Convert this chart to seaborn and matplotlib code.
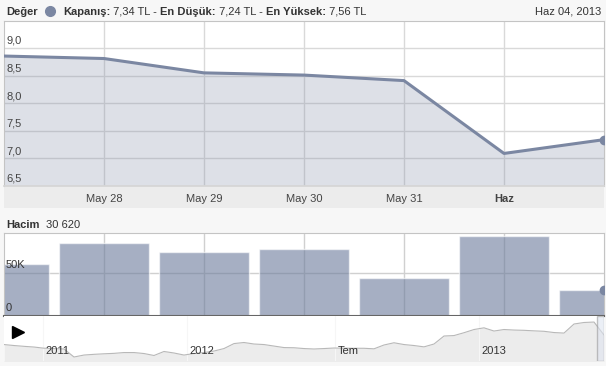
import numpy as np
import matplotlib
matplotlib.use("Agg")
import matplotlib.pyplot as plt
from matplotlib.patches import Rectangle
from matplotlib.lines import Line2D
import seaborn as sns

# fiyat (son 7 islem gunu)
gun = [0, 1, 2, 3, 4, 5, 6]
kapanis = [8.855, 8.81, 8.55, 8.51, 8.41, 7.09, 7.34]
gun_etiket = ["May 28", "May 29", "May 30", "May 31", "Haz"]
gun_tick = [1, 2, 3, 4, 5]
fiyat_tick = [6.5, 7.0, 7.5, 8.0, 8.5, 9.0]
fiyat_etiket = ["6,5", "7,0", "7,5", "8,0", "8,5", "9,0"]

# hacim
hacim = [60500, 86300, 75300, 78400, 44100, 94000, 30620]
hacim_tick = [0, 50000]
hacim_etiket = ["0", "50K"]

# navigator (uzun donem fiyat)
nav_fiyat = [6.27, 6.16, 6.07, 5.99, 5.86, 5.82, 5.77, 4.87, 5.09, 5.17,
             5.23, 5.28, 5.37, 5.37, 5.26, 5.04, 5.49, 5.32, 5.09, 5.26,
             5.37, 5.54, 5.82, 6.38, 6.50, 6.33, 6.27, 6.10, 5.93, 5.91,
             5.82, 5.77, 5.82, 5.88, 5.86, 5.85, 5.85, 5.79, 6.22, 6.47,
             6.27, 6.16, 6.01, 6.33, 7.23, 7.28, 7.60, 7.96, 8.15, 7.79,
             7.96, 7.90, 7.87, 7.81, 7.76, 7.62, 7.56, 8.58, 8.75, 8.80,
             7.34]
nav_tick = [3.9, 18.3, 33.1, 47.5]
nav_etiket = ["2011", "2012", "Tem", "2013"]

# baslik
baslik_parca = [("Kapanış:", "bold"), (" 7,34 TL - ", "normal"), ("En Düşük:", "bold"),
                (" 7,24 TL - ", "normal"), ("En Yüksek:", "bold"), (" 7,56 TL", "normal")]
tarih = "Haz 04, 2013"
son_hacim = "30 620"

renk = "#7b87a2"
yazi = "#333333"
W, H = 606, 366

sns.set_theme(style="white")
plt.rcParams["font.family"] = ["Liberation Sans", "DejaVu Sans"]
plt.rcParams["font.size"] = 8

fig = plt.figure(figsize=(W / 100, H / 100), dpi=100)
fig.patch.set_facecolor("#f7f7f7")

def fx(px):
    return px / W

def fy(py):
    return 1 - py / H

# --- fiyat grafigi ---
ax = fig.add_axes([fx(4), fy(186), fx(600), 165 / H])
ax.set_facecolor("white")
sns.lineplot(x=gun, y=kapanis, color=renk, lw=2.2, ax=ax, zorder=3)
ax.fill_between(gun, kapanis, 0, color=renk, alpha=0.25, lw=0, zorder=2)
ax.plot(gun[-1], kapanis[-1], "o", ms=6, color=renk, zorder=4)
ax.set_xlim(0, 6)
ax.set_ylim(6.5, 9.49)
ax.set_xticks(gun_tick)
ax.set_xticklabels(gun_etiket)
ax.set_yticks(fiyat_tick)
ax.grid(True, color="#d9d9d9", lw=1)
ax.set_axisbelow(True)
ax.tick_params(axis="x", length=0, pad=6, labelsize=8, labelcolor="#444444")
ax.tick_params(axis="y", length=0, labelleft=False)
ax.get_xticklabels()[-1].set_fontweight("bold")
ax.set_xlabel("")
ax.set_ylabel("")
for v, t in zip(fiyat_tick, fiyat_etiket):
    ax.annotate(t, (0, v), xycoords=("axes fraction", "data"), xytext=(1.5, 1.5),
                textcoords="offset points", va="bottom", ha="left", fontsize=8, color="#444444")
for s in ["top", "left", "right"]:
    ax.spines[s].set_color("#c4c4c4")
    ax.spines[s].set_linewidth(0.8)
ax.spines["bottom"].set_color("#d6d6d6")

# tarih bandi
fig.patches.append(Rectangle((fx(4), fy(208)), fx(600), 22 / H, transform=fig.transFigure,
                             facecolor="#ececec", edgecolor="none", zorder=-1))

# --- hacim grafigi ---
vax = fig.add_axes([fx(4), fy(316), fx(600), 83 / H])
vax.set_facecolor("white")
sns.barplot(x=gun, y=hacim, native_scale=True, color="#6b7b9b", alpha=0.6, width=0.9,
            saturation=1, ax=vax, zorder=2)
vax.plot(gun[-1], hacim[-1], "o", ms=6, color=renk, zorder=4)
vax.set_xlim(0, 6)
vax.set_ylim(0, 97500)
vax.set_xticks(gun_tick)
vax.set_yticks(hacim_tick)
vax.grid(True, color="#d0d0d0", lw=1)
vax.set_axisbelow(True)
vax.tick_params(length=0, labelleft=False, labelbottom=False)
vax.set_xlabel("")
vax.set_ylabel("")
for v, t in zip(hacim_tick, hacim_etiket):
    vax.annotate(t, (0, v), xycoords=("axes fraction", "data"), xytext=(1.5, 2.5),
                 textcoords="offset points", va="bottom", ha="left", fontsize=8, color=yazi)
for s in ["top", "left", "right"]:
    vax.spines[s].set_color("#c4c4c4")
    vax.spines[s].set_linewidth(0.8)
vax.spines["bottom"].set_color("#666666")
vax.spines["bottom"].set_linewidth(1.5)
vax.spines["bottom"].set_zorder(5)

# --- navigator ---
nax = fig.add_axes([fx(4), fy(361), fx(600), 45 / H])
nax.set_facecolor("white")
nx = list(range(len(nav_fiyat)))
nax.fill_between(nx, nav_fiyat, 0, color="#ececec", lw=0, zorder=1)
sns.lineplot(x=nx, y=nav_fiyat, color="#b8b8b8", lw=0.8, ax=nax, zorder=2)
nax.set_xlim(0, len(nav_fiyat) - 1)
nax.set_ylim(4.42, 9.48)
for p, t in zip(nav_tick, nav_etiket):
    nax.axvline(p, color="#f6f6f6", lw=0.8, zorder=1.5)
    nax.annotate(t, (p, 0), xycoords=("data", "axes fraction"), xytext=(2, 3.5),
                 textcoords="offset points", ha="left", va="bottom", fontsize=8, color=yazi)
nax.axvspan(59.25, 59.97, facecolor="#dfe5f0", alpha=0.6, edgecolor="#9a9a9a", lw=1, zorder=3)
nax.plot([0.0233], [0.64], marker=">", ms=8, color="black", transform=nax.transAxes, clip_on=False)
nax.set_xticks([])
nax.set_yticks([])
nax.set_xlabel("")
nax.set_ylabel("")
for s in nax.spines.values():
    s.set_visible(False)

# --- baslik ---
fig.text(fx(6), fy(15), "Değer", fontweight="bold", color=yazi, fontsize=8, va="baseline")
fig.add_artist(Line2D([fx(50)], [fy(11)], marker="o", ms=7, color=renk, transform=fig.transFigure))
onceki = fig.text(fx(63), fy(15), baslik_parca[0][0], fontweight=baslik_parca[0][1],
                  color=yazi, fontsize=8, va="baseline")
for metin, kalin in baslik_parca[1:]:
    # her parca bir oncekinin sag kenarindan devam eder
    onceki = fig.add_artist(plt.Annotation(metin, xy=(1, 0), xycoords=onceki, va="bottom",
                                           ha="left", fontweight=kalin, color=yazi, fontsize=8))
fig.text(fx(601), fy(15), tarih, ha="right", va="baseline", color=yazi, fontsize=8)

fig.text(fx(6), fy(228), "Hacim", fontweight="bold", color=yazi, fontsize=8, va="baseline")
fig.text(fx(46), fy(228), son_hacim, color=yazi, fontsize=8, va="baseline")

fig.savefig("out.png", dpi=100, facecolor=fig.get_facecolor())
